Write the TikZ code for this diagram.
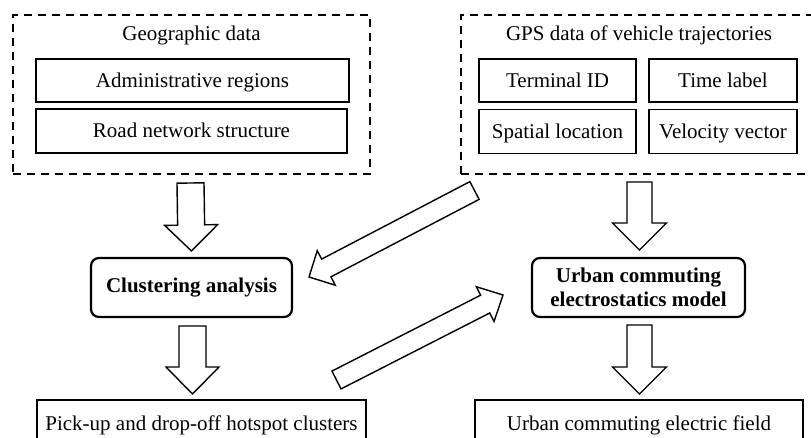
\documentclass[tikz,border=0pt]{standalone}
\usepackage{fontspec}
\setmainfont{Liberation Serif}
\usetikzlibrary{calc}
\newcommand\blockarrow[5]{%
  \coordinate (ba-c) at ($(#2)!#5!(#1)$);
  \draw[barrow] ($(#1)!#3!90:(#2)$) -- ($(ba-c)!#3!90:(#2)$) -- ($(ba-c)!#4!90:(#2)$) -- (#2)
    -- ($(ba-c)!#4!-90:(#2)$) -- ($(ba-c)!#3!-90:(#2)$) -- ($(#1)!#3!-90:(#2)$) -- cycle;}
\begin{document}
\begin{tikzpicture}[x=1pt,y=-1pt,
  every node/.style={font=\fontsize{21}{23}\selectfont, inner sep=0pt, outer sep=0pt},
  group/.style={draw, line width=1.8pt, dash pattern=on 8pt off 6pt},
  item/.style={draw, line width=1.8pt, text height=16pt, text depth=2pt},
  proc/.style={draw, line width=2.2pt, rounded corners=8pt, font=\fontsize{21}{23}\selectfont\bfseries, align=center},
  result/.style={draw, line width=1.6pt, text height=16pt, text depth=2pt},
  barrow/.style={draw, line width=1.4pt, fill=white, line join=miter}]
\useasboundingbox (0,0) rectangle (811,438);
\clip (0,0) rectangle (811,438);
% groups
\node[group, minimum width=357pt, minimum height=159pt] (geo) at (191.5,94.5) {};
\node[anchor=base] (geot) at (191.5,40.5) {Geographic data};
\node[item, minimum width=313pt, minimum height=43pt] (adm) at (192.5,80.5) {Administrative regions};
\node[item, minimum width=311pt, minimum height=44pt] (road) at (191.5,131) {Road network structure};

\node[group, minimum width=356pt, minimum height=159pt] (gps) at (639,94.5) {};
\node[anchor=base] (gpst) at (639,40.5) {GPS data of vehicle trajectories};
\node[item, minimum width=157pt, minimum height=43pt] (tid) at (557.5,80.5) {Terminal ID};
\node[item, minimum width=148pt, minimum height=43pt] (tl) at (723,80.5) {Time label};
\node[item, minimum width=157pt, minimum height=44pt] (sl) at (557.5,131.5) {Spatial location};
\node[item, minimum width=148pt, minimum height=44pt] (vv) at (723,131.5) {Velocity vector};

% processes
\node[proc, minimum width=201pt, minimum height=59pt] (clust) at (191.5,287.5) {Clustering analysis};
\node[proc, minimum width=213pt, minimum height=59pt] (urban) at (638.5,287.5) {\raisebox{-3pt}{\shortstack{Urban commuting\\[2pt]electrostatics model}}};

% results
\node[result, minimum width=329pt, minimum height=46pt] (pick) at (201.5,423) {Pick-up and drop-off hotspot clusters};
\node[result, minimum width=328pt, minimum height=46pt] (field) at (639,423) {Urban commuting electric field};

% arrow end points
\coordinate (v1s) at ($(geo.south)+(-1,9)$);
\coordinate (v1e) at ($(clust.north)+(0,-7)$);
\coordinate (v2s) at ($(clust.south)+(1,9)$);
\coordinate (v2e) at ($(clust.south |- pick.north)+(1,-6)$);
\coordinate (v3s) at ($(gps.south)+(0.5,8)$);
\coordinate (v3e) at ($(urban.north)+(1,-8)$);
\coordinate (v4s) at ($(urban.south)+(1,8)$);
\coordinate (v4e) at ($(urban.south |- field.north)+(1,-6)$);
\coordinate (d1s) at ($(gps.south west)+(13.5,16.5)$);
\coordinate (d1e) at ($(clust.east)+(17,-10.5)$);
\coordinate (d2s) at ($(pick.north east)+(-29.5,-20)$);
\coordinate (d2e) at ($(urban.west)+(-29,7.5)$);

\blockarrow{v1s}{v1e}{13.5pt}{26.5pt}{26pt}
\blockarrow{v2s}{v2e}{13.5pt}{26.5pt}{27pt}
\blockarrow{v3s}{v3e}{12.5pt}{27pt}{27pt}
\blockarrow{v4s}{v4e}{12.5pt}{27pt}{27pt}
\blockarrow{d1s}{d1e}{10pt}{19.5pt}{19.5pt}
\blockarrow{d2s}{d2e}{10pt}{19.5pt}{20pt}
\end{tikzpicture}
\end{document}
